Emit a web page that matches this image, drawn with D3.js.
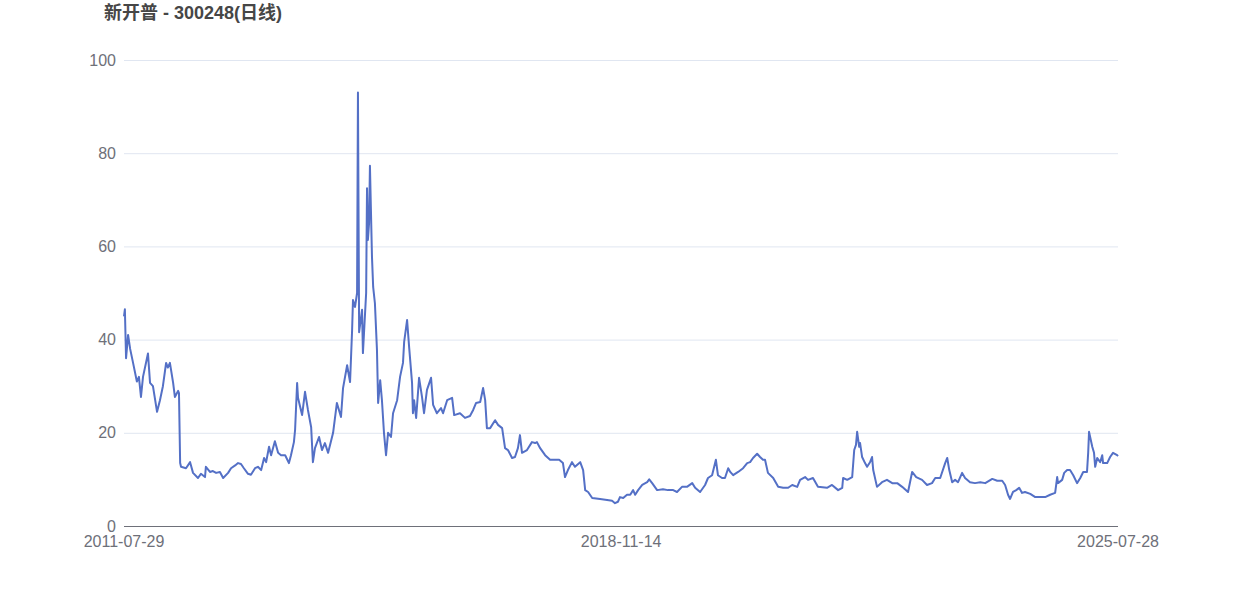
<!DOCTYPE html>
<html>
<head>
<meta charset="utf-8">
<script src="https://cdn.jsdelivr.net/npm/d3@7"></script>
<style>
  html, body { margin: 0; padding: 0; background: #ffffff; }
  svg { display: block; }
</style>
</head>
<body>
<svg id="chart" width="1242" height="596"></svg>
<script>
const titleText = "新开普 - 300248(日线)";
const xLabels = ["2011-07-29", "2018-11-14", "2025-07-28"];
const yTicks = [0, 20, 40, 60, 80, 100];
const totalDays = 3400;
// trading-day ordinal of each reading
const days = [0,3,7,14,21,31,44,51,58,65,82,89,99,113,123,133,144,150,157,168,174,185,188,192,195,212,226,236,253,263,277,280,294,304,315,328,339,356,366,380,390,400,410,424,434,448,458,469,479,486,496,503,516,527,537,551,554,564,571,581,585,592,595,609,619,629,640,646,653,667,677,687,698,715,728,742,749,763,773,780,783,790,797,800,804,814,817,828,831,834,838,841,848,852,858,865,869,876,882,889,896,903,913,920,934,944,954,958,968,975,985,988,992,999,1009,1019,1026,1036,1050,1057,1070,1084,1091,1105,1122,1129,1149,1166,1183,1194,1204,1218,1228,1235,1241,1252,1269,1279,1293,1303,1313,1327,1337,1347,1354,1361,1378,1395,1406,1412,1423,1440,1457,1474,1488,1501,1508,1518,1532,1542,1560,1570,1577,1587,1601,1628,1652,1669,1679,1689,1696,1707,1720,1731,1741,1748,1758,1772,1789,1796,1806,1823,1843,1860,1878,1891,1908,1925,1943,1953,1970,1987,1997,2011,2024,2031,2045,2055,2066,2073,2083,2100,2117,2131,2141,2151,2165,2175,2185,2192,2202,2220,2237,2254,2271,2285,2302,2312,2329,2339,2356,2373,2404,2421,2442,2456,2459,2473,2490,2497,2503,2507,2514,2517,2524,2534,2541,2551,2558,2562,2572,2575,2592,2609,2627,2644,2661,2681,2695,2709,2729,2746,2763,2774,2791,2808,2815,2822,2832,2842,2852,2866,2876,2893,2910,2928,2945,2969,2986,3003,3013,3023,3030,3040,3051,3061,3071,3081,3099,3116,3133,3150,3167,3184,3191,3194,3208,3215,3225,3235,3246,3259,3270,3280,3293,3297,3300,3311,3317,3321,3328,3338,3345,3348,3362,3372,3382,3396,3399];
// closing price readings
const prices = [45,46.5,36,41,38,35,31,32,27.7,32,37,30.7,30,24.5,27,30,35,34,35,30.7,27.7,29,28.5,13.5,12.7,12.4,13.7,11.4,10.3,11.2,10.5,12.7,11.6,11.8,11.4,11.6,10.3,11.4,12.4,13,13.5,13.3,12.4,11.2,11,12.4,12.7,12,14.6,13.7,17,15.2,18.2,15.7,15.2,15.2,14.8,13.5,15.2,18,20.6,30.7,27.5,23.8,28.8,24.9,21.2,13.7,16.7,19.1,16.3,17.8,15.7,20,26.4,23.4,29.6,34.5,30.9,42,48.5,47,50,93,41.6,46.4,37.1,50,72.5,61.4,65,77.3,57.7,51.3,47.8,37.8,26.4,31.3,27,20,15.2,20,19.1,24.2,27,32,35,39.5,44.2,38.4,30.7,24.2,27,23.2,31.8,27.7,24.2,29.2,31.8,26,24.2,25.3,24.2,27,27.5,23.8,24.2,23.2,23.6,24.9,26.4,26.6,29.6,27,21,21,22.7,21.7,21,16.7,16.3,14.6,14.8,16.7,19.5,15.7,16.3,18,17.8,18,16.7,15.2,14.2,14.2,14.2,13.5,10.5,12,13.7,12.7,13.7,12,7.7,7.3,6,5.8,5.6,5.4,4.9,5.2,6.2,6,6.7,6.7,7.7,6.7,7.7,8.8,9.4,10,9.2,7.7,7.9,7.7,7.7,7.3,8.4,8.4,9.2,8.2,7.3,8.8,10.3,10.9,14.2,10.9,10.3,10.3,12.4,11.6,10.9,11.6,12.4,13.5,13.7,14.6,15.5,14.8,14.2,14.2,11.4,10.3,8.4,8.2,8.2,8.8,8.4,9.9,10.5,9.9,10.3,8.4,8.2,8.8,7.7,8.2,10.3,9.9,10.5,16.3,17.4,20.2,17,17.8,14.8,13.5,12.7,13.7,14.8,12,9.2,8.4,9.4,9.9,9.2,9.2,8.4,7.3,11.6,10.5,9.9,8.8,9.2,10.3,10.3,13.5,14.6,12,9.4,9.9,9.4,11.4,10.3,9.4,9.2,9.4,9.2,10.1,9.7,9.7,8.8,6.7,5.8,7.3,7.7,8.2,7.1,7.3,6.9,6.2,6.2,6.2,6.7,7.1,10.5,9.2,9.9,11.4,12,12,10.9,9.2,10.3,11.6,11.6,15.7,20.2,17,15.7,12.7,14.6,13.7,15.2,13.5,13.5,14.8,15.7,15.2,15];

const data = days.map((d, i) => ({ d, v: prices[i] }));

const svg = d3.select("#chart");
const margin = { left: 124, right: 124, top: 60, bottom: 70 };
const W = 1242, H = 596;

const x = d3.scaleLinear().domain([0, totalDays - 1]).range([margin.left, W - margin.right]);
const y = d3.scaleLinear().domain([0, 100]).range([H - margin.bottom, margin.top]);

// grid lines
svg.append("g").selectAll("line").data(yTicks.filter(t => t !== 0)).join("line")
  .attr("x1", margin.left).attr("x2", W - margin.right)
  .attr("y1", d => y(d) + 0.5).attr("y2", d => y(d) + 0.5)
  .attr("stroke", "#e0e6f1").attr("stroke-width", 1);

// y labels
svg.append("g").selectAll("text").data(yTicks).join("text")
  .attr("x", margin.left - 8).attr("y", d => y(d))
  .attr("dy", "0.35em").attr("text-anchor", "end")
  .attr("font-family", "'Liberation Sans', Arial, sans-serif")
  .attr("font-size", 16).attr("fill", "#6e7079")
  .text(d => d);

// x axis line
svg.append("line")
  .attr("x1", margin.left).attr("x2", W - margin.right)
  .attr("y1", y(0) + 0.5).attr("y2", y(0) + 0.5)
  .attr("stroke", "#6e7079").attr("stroke-width", 1);

// x labels
const xTickDays = [0, Math.round((totalDays - 1) / 2), totalDays - 1];
svg.append("g").selectAll("text").data(xLabels).join("text")
  .attr("x", (d, i) => x(xTickDays[i])).attr("y", y(0) + 15)
  .attr("dy", "0.35em").attr("text-anchor", "middle")
  .attr("font-family", "'Liberation Sans', Arial, sans-serif")
  .attr("font-size", 16).attr("fill", "#6e7079")
  .text(d => d);

// line
const line = d3.line().x(d => x(d.d)).y(d => y(d.v));
svg.append("path").datum(data)
  .attr("d", line).attr("fill", "none")
  .attr("stroke", "#5470c6").attr("stroke-width", 2)
  .attr("stroke-linejoin", "round");

// title
svg.append("text")
  .attr("x", 104).attr("y", 19)
  .attr("font-family", "'Liberation Sans', 'Noto Sans CJK SC', sans-serif")
  .attr("font-size", 18).attr("font-weight", "bold").attr("fill", "#464646")
  .text(titleText);
</script>
</body>
</html>
